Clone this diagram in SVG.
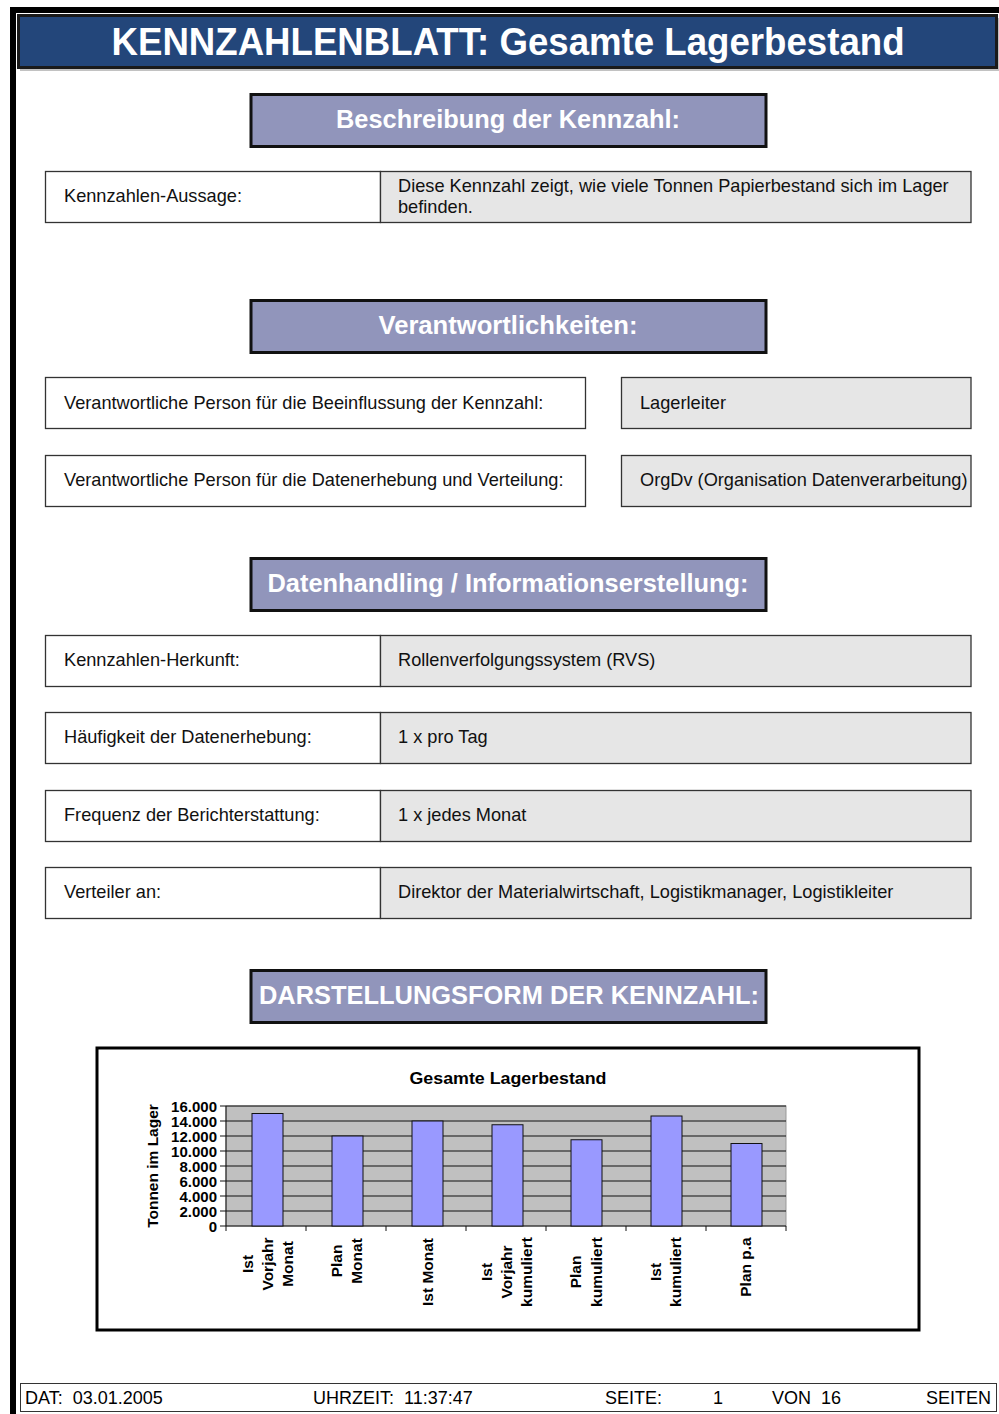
<svg xmlns="http://www.w3.org/2000/svg" width="999" height="1414" viewBox="0 0 999 1414">
  <style>
    text { font-family: "Liberation Sans", Arial, sans-serif; }
    .sec rect { fill: #9195BB; stroke: #111; stroke-width: 3; }
    .sec text { fill: #fff; font-weight: bold; font-size: 25px; text-anchor: middle; }
    .lbl { fill: #fff; stroke: #333; stroke-width: 1.3; }
    .val { fill: #E6E6E6; stroke: #333; stroke-width: 1.3; }
    .t { fill: #111; font-size: 18.2px; }
    .grid { stroke: #111; stroke-width: 1; }
    .bar { fill: #9999FF; stroke: #111; stroke-width: 1; }
    .ylab { font-size: 15px; font-weight: bold; text-anchor: end; fill: #000; }
    .xlab { font-size: 15.5px; font-weight: bold; text-anchor: middle; fill: #000; }
    .foot { font-size: 18px; fill: #000; white-space: pre; }
  </style>

  <!-- page frame -->
  <rect x="0" y="0" width="999" height="1414" fill="#fff"/>
  <rect x="10" y="7" width="989" height="6" fill="#000"/>
  <rect x="10" y="7" width="6" height="1407" fill="#000"/>

  <!-- title bar -->
  <g id="title">
    <rect x="20" y="18" width="979" height="53" fill="#999" opacity="0.6"/>
    <rect x="18.5" y="15.5" width="978" height="52" fill="#23467A" stroke="#1a1a1a" stroke-width="3"/>
    <text x="508" y="55" fill="#fff" font-size="38" font-weight="bold" text-anchor="middle" textLength="793" lengthAdjust="spacingAndGlyphs">KENNZAHLENBLATT: Gesamte Lagerbestand</text>
  </g>

  <!-- section: description -->
  <g id="sec-beschreibung" class="sec">
    <rect x="251" y="94.5" width="515" height="52"/>
    <text x="508" y="128" textLength="344" lengthAdjust="spacingAndGlyphs">Beschreibung der Kennzahl:</text>
  </g>
  <g id="row-aussage">
    <rect class="lbl" x="45.5" y="171.5" width="335" height="51"/>
    <rect class="val" x="380.5" y="171.5" width="590.5" height="51"/>
    <text class="t" x="64" y="202">Kennzahlen-Aussage:</text>
    <text class="t" x="398" y="192">Diese Kennzahl zeigt, wie viele Tonnen Papierbestand sich im Lager</text>
    <text class="t" x="398" y="213">befinden.</text>
  </g>

  <!-- section: responsibilities -->
  <g id="sec-verantwortung" class="sec">
    <rect x="251" y="300.5" width="515" height="52"/>
    <text x="508" y="334" textLength="259" lengthAdjust="spacingAndGlyphs">Verantwortlichkeiten:</text>
  </g>
  <g id="row-beeinflussung">
    <rect class="lbl" x="45.5" y="377.5" width="540" height="51"/>
    <rect class="val" x="621.5" y="377.5" width="349.5" height="51"/>
    <text class="t" x="64" y="409">Verantwortliche Person für die Beeinflussung der Kennzahl:</text>
    <text class="t" x="640" y="409">Lagerleiter</text>
  </g>
  <g id="row-datenerhebung">
    <rect class="lbl" x="45.5" y="455.5" width="540" height="51"/>
    <rect class="val" x="621.5" y="455.5" width="349.5" height="51"/>
    <text class="t" x="64" y="486">Verantwortliche Person für die Datenerhebung und Verteilung:</text>
    <text class="t" x="640" y="486">OrgDv (Organisation Datenverarbeitung)</text>
  </g>

  <!-- section: data handling -->
  <g id="sec-datenhandling" class="sec">
    <rect x="251" y="558.5" width="515" height="52"/>
    <text x="508" y="592" textLength="481" lengthAdjust="spacingAndGlyphs">Datenhandling / Informationserstellung:</text>
  </g>
  <g id="row-herkunft">
    <rect class="lbl" x="45.5" y="635.5" width="335" height="51"/>
    <rect class="val" x="380.5" y="635.5" width="590.5" height="51"/>
    <text class="t" x="64" y="666">Kennzahlen-Herkunft:</text>
    <text class="t" x="398" y="666">Rollenverfolgungssystem (RVS)</text>
  </g>
  <g id="row-haeufigkeit">
    <rect class="lbl" x="45.5" y="712.5" width="335" height="51"/>
    <rect class="val" x="380.5" y="712.5" width="590.5" height="51"/>
    <text class="t" x="64" y="743">Häufigkeit der Datenerhebung:</text>
    <text class="t" x="398" y="743">1 x pro Tag</text>
  </g>
  <g id="row-frequenz">
    <rect class="lbl" x="45.5" y="790.5" width="335" height="51"/>
    <rect class="val" x="380.5" y="790.5" width="590.5" height="51"/>
    <text class="t" x="64" y="821">Frequenz der Berichterstattung:</text>
    <text class="t" x="398" y="821">1 x jedes Monat</text>
  </g>
  <g id="row-verteiler">
    <rect class="lbl" x="45.5" y="867.5" width="335" height="51"/>
    <rect class="val" x="380.5" y="867.5" width="590.5" height="51"/>
    <text class="t" x="64" y="898">Verteiler an:</text>
    <text class="t" x="398" y="898">Direktor der Materialwirtschaft, Logistikmanager, Logistikleiter</text>
  </g>

  <!-- section: presentation -->
  <g id="sec-darstellung" class="sec">
    <rect x="251" y="970.5" width="515" height="52"/>
    <text x="509" y="1004" textLength="500" lengthAdjust="spacingAndGlyphs">DARSTELLUNGSFORM DER KENNZAHL:</text>
  </g>

  <!-- chart -->
  <g id="chart">
    <rect x="97" y="1048" width="822" height="282" fill="#fff" stroke="#000" stroke-width="3"/>
    <text x="508" y="1084" font-size="17" font-weight="bold" text-anchor="middle" textLength="197" lengthAdjust="spacingAndGlyphs">Gesamte Lagerbestand</text>

    <rect x="226" y="1106" width="560" height="120" fill="#C0C0C0" stroke="#999" stroke-width="1"/>
    <g class="grid">
      <line x1="226" y1="1121" x2="786" y2="1121"/>
      <line x1="226" y1="1136" x2="786" y2="1136"/>
      <line x1="226" y1="1151" x2="786" y2="1151"/>
      <line x1="226" y1="1166" x2="786" y2="1166"/>
      <line x1="226" y1="1181" x2="786" y2="1181"/>
      <line x1="226" y1="1196" x2="786" y2="1196"/>
      <line x1="226" y1="1211" x2="786" y2="1211"/>
      <line x1="226" y1="1106" x2="786" y2="1106"/>
      <!-- axes and ticks -->
      <line x1="226" y1="1106" x2="226" y2="1226"/>
      <line x1="220" y1="1226" x2="786" y2="1226"/>
      <line x1="220" y1="1106" x2="226" y2="1106"/>
      <line x1="220" y1="1121" x2="226" y2="1121"/>
      <line x1="220" y1="1136" x2="226" y2="1136"/>
      <line x1="220" y1="1151" x2="226" y2="1151"/>
      <line x1="220" y1="1166" x2="226" y2="1166"/>
      <line x1="220" y1="1181" x2="226" y2="1181"/>
      <line x1="220" y1="1196" x2="226" y2="1196"/>
      <line x1="220" y1="1211" x2="226" y2="1211"/>
      <line x1="306" y1="1226" x2="306" y2="1231"/>
      <line x1="386" y1="1226" x2="386" y2="1231"/>
      <line x1="466" y1="1226" x2="466" y2="1231"/>
      <line x1="546" y1="1226" x2="546" y2="1231"/>
      <line x1="626" y1="1226" x2="626" y2="1231"/>
      <line x1="706" y1="1226" x2="706" y2="1231"/>
      <line x1="786" y1="1226" x2="786" y2="1231"/>
      <line x1="226" y1="1226" x2="226" y2="1231"/>
    </g>

    <rect class="bar" x="252" y="1113.5" width="31" height="112.5"/>
    <rect class="bar" x="332" y="1136" width="31" height="90"/>
    <rect class="bar" x="412" y="1121" width="31" height="105"/>
    <rect class="bar" x="492" y="1124.75" width="31" height="101.25"/>
    <rect class="bar" x="571" y="1139.75" width="31" height="86.25"/>
    <rect class="bar" x="651" y="1116" width="31" height="110"/>
    <rect class="bar" x="731" y="1143.5" width="31" height="82.5"/>

    <text class="ylab" x="217" y="1112">16.000</text>
    <text class="ylab" x="217" y="1127">14.000</text>
    <text class="ylab" x="217" y="1142">12.000</text>
    <text class="ylab" x="217" y="1157">10.000</text>
    <text class="ylab" x="217" y="1172">8.000</text>
    <text class="ylab" x="217" y="1187">6.000</text>
    <text class="ylab" x="217" y="1202">4.000</text>
    <text class="ylab" x="217" y="1217">2.000</text>
    <text class="ylab" x="217" y="1232">0</text>

    <text class="xlab" font-size="16" transform="translate(158 1166) rotate(-90)">Tonnen im Lager</text>

    <!-- category labels, rotated -->
    <text class="xlab" transform="translate(253 1264) rotate(-90)">Ist</text>
    <text class="xlab" transform="translate(273 1264) rotate(-90)">Vorjahr</text>
    <text class="xlab" transform="translate(293 1264) rotate(-90)">Monat</text>

    <text class="xlab" transform="translate(342 1261) rotate(-90)">Plan</text>
    <text class="xlab" transform="translate(362 1261) rotate(-90)">Monat</text>

    <text class="xlab" transform="translate(433 1272) rotate(-90)">Ist Monat</text>

    <text class="xlab" transform="translate(492 1272) rotate(-90)">Ist</text>
    <text class="xlab" transform="translate(512 1272) rotate(-90)">Vorjahr</text>
    <text class="xlab" transform="translate(532 1272) rotate(-90)">kumuliert</text>

    <text class="xlab" transform="translate(581 1272) rotate(-90)">Plan</text>
    <text class="xlab" transform="translate(602 1272) rotate(-90)">kumuliert</text>

    <text class="xlab" transform="translate(661 1272) rotate(-90)">Ist</text>
    <text class="xlab" transform="translate(681 1272) rotate(-90)">kumuliert</text>

    <text class="xlab" transform="translate(751 1267) rotate(-90)">Plan p.a</text>
  </g>

  <!-- footer -->
  <g id="footer">
    <rect x="20.5" y="1383.5" width="976" height="28" fill="#fff" stroke="#333" stroke-width="1"/>
    <text class="foot" x="25" y="1404" xml:space="preserve">DAT:  03.01.2005</text>
    <text class="foot" x="313" y="1404" xml:space="preserve">UHRZEIT:  11:37:47</text>
    <text class="foot" x="605" y="1404">SEITE:</text>
    <text class="foot" x="713" y="1404">1</text>
    <text class="foot" x="772" y="1404" xml:space="preserve">VON  16</text>
    <text class="foot" x="926" y="1404">SEITEN</text>
  </g>
</svg>
